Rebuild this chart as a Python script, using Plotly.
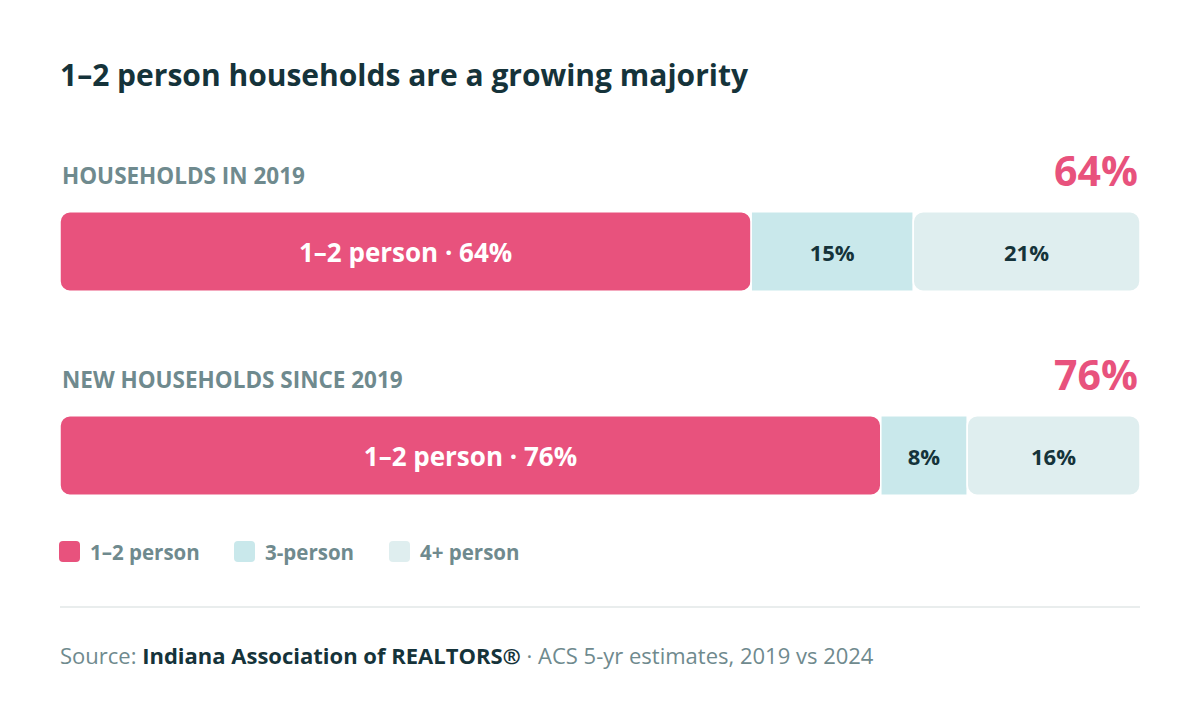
import plotly.graph_objects as go

# data
rows = ["HOUSEHOLDS IN 2019", "NEW HOUSEHOLDS SINCE 2019"]
share_12 = [64, 76]
share_3 = [15, 8]
share_4 = [21, 16]
series_names = ["1–2 person", "3-person", "4+ person"]

PINK = "#E8527D"
C3 = "#C9E8EB"
C4 = "#DFEEEF"
DARK = "#15333A"
GRAY = "#6F8A8E"
FONT = "Open Sans"

# the page puts the figure 8px in from the window corner, so work in window px and shift
OFF = 8
W, H = 1200 - OFF, 710 - OFF


def px(x):
    return (x - OFF) / W


def py(y):
    return 1 - (y - OFF) / H


fig = go.Figure()

# 1-2 person drawn from its right edge back to 0 so the left end gets rounded
fig.add_trace(go.Bar(
    y=rows, x=[-v for v in share_12], base=share_12, orientation="h",
    marker=dict(color=PINK, cornerradius=10, line=dict(color="white", width=1.5)),
    text=[f"1–2 person · {v}%" for v in share_12],
    textposition="inside", insidetextanchor="middle", textangle=0,
    textfont=dict(family=FONT, size=26, color="white", weight=700),
    width=0.39, name=series_names[0], hoverinfo="skip",
))
fig.add_trace(go.Bar(
    y=rows, x=share_3, base=share_12, orientation="h",
    marker=dict(color=C3, line=dict(color="white", width=1.5)),
    text=[f"{v}%" for v in share_3],
    textposition="inside", insidetextanchor="middle", textangle=0,
    textfont=dict(family=FONT, size=22, color=DARK, weight=700),
    width=0.39, name=series_names[1], hoverinfo="skip",
))
fig.add_trace(go.Bar(
    y=rows, x=share_4, base=[a + b for a, b in zip(share_12, share_3)], orientation="h",
    marker=dict(color=C4, cornerradius=10, line=dict(color="white", width=1.5)),
    text=[f"{v}%" for v in share_4],
    textposition="inside", insidetextanchor="middle", textangle=0,
    textfont=dict(family=FONT, size=22, color=DARK, weight=700),
    width=0.39, name=series_names[2], hoverinfo="skip",
))

annotations = []
for r, v in zip(rows, share_12):
    annotations.append(dict(x=0, y=r, xref="x", yref="y", text=r, showarrow=False,
                            xanchor="left", yanchor="middle", yshift=76,
                            font=dict(family=FONT, size=22.5, color=GRAY, weight=700)))
    annotations.append(dict(x=100, y=r, xref="x", yref="y", text=f"{v}%", showarrow=False,
                            xanchor="right", yanchor="middle", yshift=82,
                            font=dict(family=FONT, size=41, color=PINK, weight=700)))

# title
annotations.append(dict(x=px(58), y=py(74), xref="paper", yref="paper",
                        text="1–2 person households are a growing majority", showarrow=False,
                        xanchor="left", yanchor="middle",
                        font=dict(family=FONT, size=30, color=DARK, weight=700)))

shapes = []

# legend
legend_colors = [PINK, C3, C4]
legend_x = [59, 234, 389]
sq = 21
ly = 551.5
for name, col, lx in zip(series_names, legend_colors, legend_x):
    a, b = px(lx), px(lx + sq)
    t, btm = py(ly - sq / 2), py(ly + sq / 2)
    crx, cry = 4 / W, 4 / H
    shapes.append(dict(type="path", xref="paper", yref="paper",
                       path=f"M {a+crx} {btm} L {b-crx} {btm} Q {b} {btm} {b} {btm+cry} "
                            f"L {b} {t-cry} Q {b} {t} {b-crx} {t} L {a+crx} {t} Q {a} {t} {a} {t-cry} "
                            f"L {a} {btm+cry} Q {a} {btm} {a+crx} {btm} Z",
                       fillcolor=col, line=dict(width=0)))
    annotations.append(dict(x=px(lx + sq + 8), y=py(ly), xref="paper", yref="paper",
                            text=name, showarrow=False, xanchor="left", yanchor="middle",
                            font=dict(family=FONT, size=20.5, color=GRAY, weight=700)))

# separator
shapes.append(dict(type="line", xref="paper", yref="paper", x0=px(60), x1=px(1140),
                   y0=py(607), y1=py(607), line=dict(color="#E9EDED", width=2)))

# source
annotations.append(dict(x=px(58), y=py(655), xref="paper", yref="paper", showarrow=False,
                        xanchor="left", yanchor="middle",
                        text=f"Source: <b><span style='color:{DARK}'>Indiana Association of REALTORS®</span></b>"
                             " · ACS 5-yr estimates, 2019 vs 2024",
                        font=dict(family=FONT, size=22, color=GRAY)))

fig.update_layout(
    width=W, height=H,
    margin=dict(l=0, r=0, t=0, b=0),
    paper_bgcolor="white",
    plot_bgcolor="rgba(0,0,0,0)",
    barmode="overlay",
    showlegend=False,
    xaxis=dict(domain=[px(60), px(1140)], range=[0, 100], visible=False, fixedrange=True),
    yaxis=dict(domain=[0, 1], categoryorder="array", categoryarray=rows,
               range=[(H - (251.5 - OFF)) / 204, -(251.5 - OFF) / 204],
               visible=False, fixedrange=True),
    annotations=annotations,
    shapes=shapes,
)

fig.write_html("out.html")
